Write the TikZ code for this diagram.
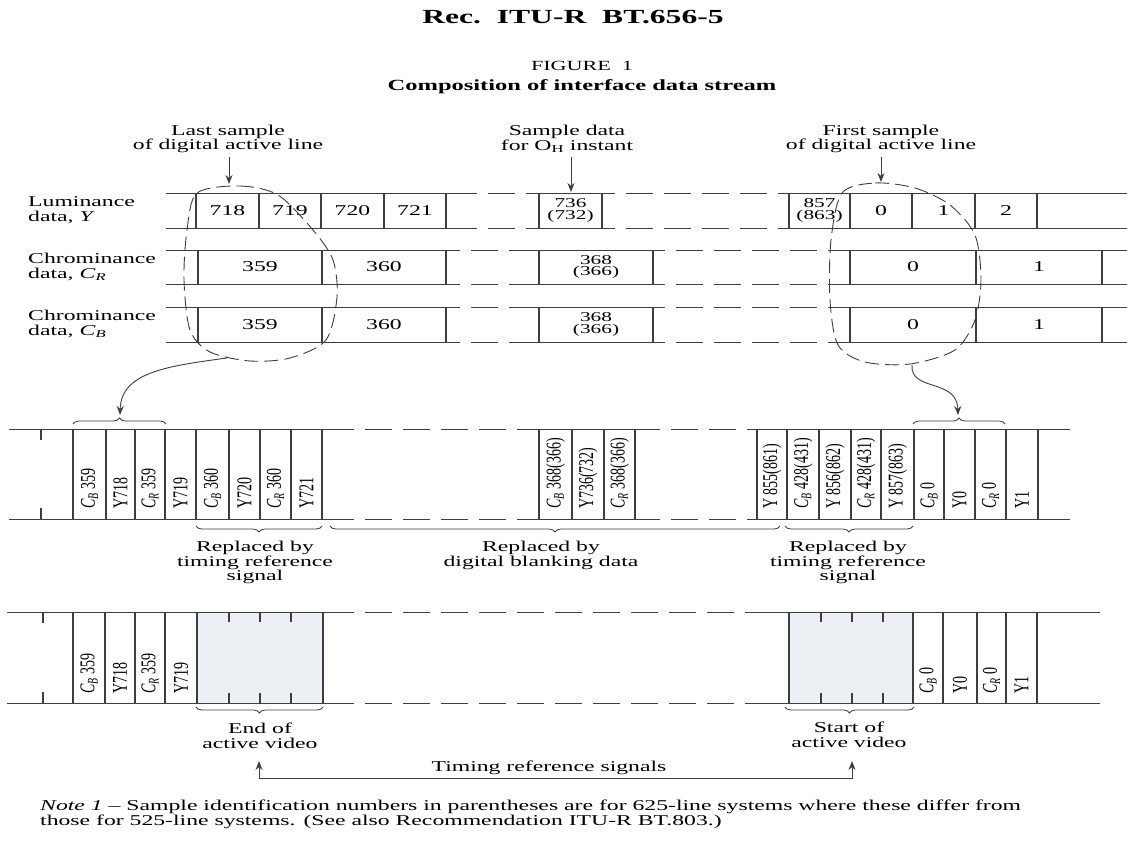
\documentclass[tikz,border=0pt]{standalone}
\usepackage{fontspec}
\usepackage{graphicx}
\setmainfont{Liberation Serif}[FakeStretch=1.58]
\newfontfamily\plainrm{Liberation Serif}
\usetikzlibrary{arrows.meta, decorations.pathreplacing, positioning}
\definecolor{cLine}{RGB}{62,62,62}
\definecolor{cShade}{RGB}{236,240,245}
\newcommand{\CB}{\textit{C}\textsubscript{\textit{B}}}
\newcommand{\CR}{\textit{C}\textsubscript{\textit{R}}}
\newcommand{\vs}[1]{\scalebox{1}[1.5]{#1}}
\tikzset{
    rowline/.style ={line width=0.9pt, draw=cLine},
    gapline/.style ={line width=0.9pt, draw=cLine, dash pattern=on 27pt off 11pt},
    cellsep/.style ={line width=1.4pt, draw=cLine},
    tickmark/.style={line width=1.2pt, draw=cLine},
    lbl/.style     ={font=\fontsize{15}{14.5}\selectfont, align=center, inner sep=0pt},
    celltxt/.style ={font=\fontsize{15}{14}\selectfont, align=center, inner sep=0pt},
    twoline/.style ={font=\fontsize{13.5}{11.5}\selectfont, align=center, inner sep=0pt},
    vtxt/.style    ={font=\plainrm\fontsize{14}{14}\selectfont, rotate=90, anchor=west, inner sep=0pt},
    ring/.style    ={line width=0.9pt, draw=cLine, dash pattern=on 14pt off 6pt},
    pointer/.style ={-{Stealth[length=9pt,width=7pt]}, line width=0.9pt, draw=cLine},
    brc/.style     ={decorate, decoration={brace, amplitude=6pt}, line width=0.8pt, draw=cLine},
}
\begin{document}
\begin{tikzpicture}[x=1pt, y=-1pt]
    \useasboundingbox (0,0) rectangle (1127,841);

    % headings
    \node[font=\bfseries\fontsize{20}{21}\selectfont] (title) at (573,17) {Rec.\ \ ITU-R\ \ BT.656-5};
    \node[lbl, font=\fontsize{14}{14}\selectfont] (fig) at (582,66) {FIGURE\ \ 1};
    \node[lbl, font=\bfseries\fontsize{15.5}{15}\selectfont] (caption) at (582,87) {Composition of interface data stream};

    \node[lbl] (lastlbl) at (228,139) {Last sample\\of digital active line};
    \node[lbl] (ohlbl) at (567,139) {Sample data\\for O\textsubscript{H} instant};
    \node[lbl] (firstlbl) at (881,139) {First sample\\of digital active line};

    \node[lbl, align=left, anchor=west] (lumlbl) at (28,210) {Luminance\\data, \textit{Y}};
    \node[lbl, align=left, anchor=west] (crlbl) at (28,267) {Chrominance\\data, \CR};
    \node[lbl, align=left, anchor=west] (cblbl) at (28,324) {Chrominance\\data, \CB};

    % parallel streams
    \foreach \yy in {193,228} {
        \draw[rowline] (166,\yy) -- (477,\yy) (530,\yy) -- (615,\yy) (780,\yy) -- (1127,\yy);
        \draw[gapline] (488,\yy) -- (530,\yy) (626,\yy) -- (780,\yy);
    }
    \foreach \xx in {196,259,321,384,446,539,602,789,850,912,975,1037}
        \draw[cellsep] (\xx,193) -- (\xx,228);
    \foreach \yt/\yb in {250/284,307/342} {
        \foreach \yy in {\yt,\yb} {
            \draw[rowline] (166,\yy) -- (460,\yy) (530,\yy) -- (665,\yy) (835,\yy) -- (1127,\yy);
            \draw[gapline] (471,\yy) -- (530,\yy) (676,\yy) -- (835,\yy);
        }
        \foreach \xx in {198,322,446,539,653,850,976,1102}
            \draw[cellsep] (\xx,\yt) -- (\xx,\yb);
    }

    \foreach \cx/\num in {227.5/718,290/719,352.5/720,415/721,881/0,943.5/1,1006/2}
        \node[celltxt] (y\num) at (\cx,210.5) {\num};
    \node[twoline] (y736) at (570.5,210.5) {736\\(732)};
    \node[twoline] (y857) at (819.5,210.5) {857\\(863)};
    \foreach \cx/\num in {260/359,384/360,913/0,1039/1} {
        \node[celltxt] (cr\num) at (\cx,267) {\num};
        \node[celltxt] (cb\num) at (\cx,324.5) {\num};
    }
    \node[twoline] (cr368) at (596,267) {368\\(366)};
    \node[twoline] (cb368) at (596,324.5) {368\\(366)};

    % pointers to the samples
    \coordinate (lastpt) at (229,184);
    \coordinate (ohpt) at (571,192);
    \coordinate (firstpt) at (881,182);
    \draw[pointer, shorten <=4pt] (lastlbl.south -| lastpt) -- (lastpt);
    \draw[pointer, shorten <=4pt] (ohlbl.south -| ohpt) -- (ohpt);
    \draw[pointer, shorten <=4pt] (firstlbl.south -| firstpt) -- (firstpt);

    % dashed rings
    \draw[ring] plot[smooth cycle] coordinates {(197,193) (240,186) (278,195) (313,230) (333,260) (337,297) (326,340) (290,358) (250,361) (210,352) (190,330) (184,280) (187,230)};
    \draw[ring] plot[smooth cycle] coordinates {(842,193) (875,183) (915,188) (950,205) (975,235) (981,280) (975,320) (955,350) (910,364) (865,362) (838,345) (830,300) (831,240)};

    % multiplexed stream
    \foreach \yy in {429,519} {
        \draw[rowline] (9,\yy) -- (354,\yy) (539,\yy) -- (660,\yy) (750,\yy) -- (1070,\yy);
        \draw[gapline] (365,\yy) -- (539,\yy) (671,\yy) -- (750,\yy);
    }
    \draw[tickmark] (41,429) -- (41,440) (41,508) -- (41,519);
    \foreach \xx in {73,106,135,165,196,229,260,291,322,539,572,604,635,757,787,819,851,881,914,944,975,1006,1038}
        \draw[cellsep] (\xx,429) -- (\xx,519);
    \foreach \cx/\txt [count=\i] in {89.5/{\CB\ 359},120.5/{Y718},150/{\CR\ 359},180.5/{Y719},212.5/{\CB\ 360},244.5/{Y720},275.5/{\CR\ 360},306.5/{Y721},555.5/{\CB\ 368(366)},588/{Y736(732)},619.5/{\CR\ 368(366)},772/{Y 855(861)},803/{\CB\ 428(431)},835/{Y 856(862)},866/{\CR\ 428(431)},897.5/{Y 857(863)},929/{\CB\ 0},959.5/{Y0},990.5/{\CR\ 0},1022/{Y1}}
        \node[vtxt] (mid\i) at (\cx,509) {\vs{\txt}};

    \coordinate (lbrc) at (120,415);
    \coordinate (rbrc) at (958,415);
    \draw[brc] (73,424) -- (166,424);
    \draw[brc] (913,424) -- (1005,424);
    \draw[pointer] (227,358) .. controls (168,366) and (121,372) .. (lbrc);
    \draw[pointer] (912,365) .. controls (910,392) and (957,378) .. (rbrc);

    \draw[brc] (322,526) -- (196,526);
    \draw[brc] (780,526) -- (330,526);
    \draw[brc] (913,526) -- (785,526);
    \node[lbl] (trsa) at (255,562.5) {Replaced by\\timing reference\\signal};
    \node[lbl] (blank) at (541,555.5) {Replaced by\\digital blanking data};
    \node[lbl] (trsb) at (848,562.5) {Replaced by\\timing reference\\signal};

    % stream with timing reference signals
    \fill[cShade] (197,612) rectangle (323,703);
    \fill[cShade] (789,612) rectangle (913,703);
    \foreach \yy in {612,703} {
        \draw[rowline] (7,\yy) -- (354,\yy) (772,\yy) -- (1100,\yy);
        \draw[gapline] (365,\yy) -- (772,\yy);
    }
    \draw[tickmark] (43,612) -- (43,623) (43,692) -- (43,703);
    \foreach \xx in {229,260,291,821,852,883}
        \draw[tickmark] (\xx,612) -- (\xx,622) (\xx,693) -- (\xx,703);
    \foreach \xx in {73,105,135,165,197,323,789,913,943,977,1006,1037}
        \draw[cellsep] (\xx,612) -- (\xx,703);
    \foreach \cx/\txt [count=\i] in {89/{\CB\ 359},120/{Y718},150/{\CR\ 359},181/{Y719},928/{\CB\ 0},960/{Y0},991.5/{\CR\ 0},1021.5/{Y1}}
        \node[vtxt] (low\i) at (\cx,694) {\vs{\txt}};

    \draw[brc] (323,707) -- (196,707);
    \draw[brc] (914,707) -- (785,707);
    \node[lbl] (eav) at (260,736) {End of\\active video};
    \node[lbl] (sav) at (849,735) {Start of\\active video};

    \coordinate (eavpt) at (259,761);
    \coordinate (savpt) at (852,761);
    \draw[line width=0.9pt, draw=cLine, {Stealth[length=9pt,width=7pt]}-{Stealth[length=9pt,width=7pt]}] (eavpt) -- ++(0,17) -| (savpt);
    \node[lbl] (trslbl) at (549,768) {Timing reference signals};

    % note
    \node[anchor=north west, align=left, inner sep=0pt, font=\fontsize{15}{13.5}\selectfont] (note) at (40,800)
        {\textit{Note 1} -- Sample identification numbers in parentheses are for 625-line systems where these differ from\\those for 525-line systems. (See also Recommendation ITU-R BT.803.)};
\end{tikzpicture}
\end{document}
